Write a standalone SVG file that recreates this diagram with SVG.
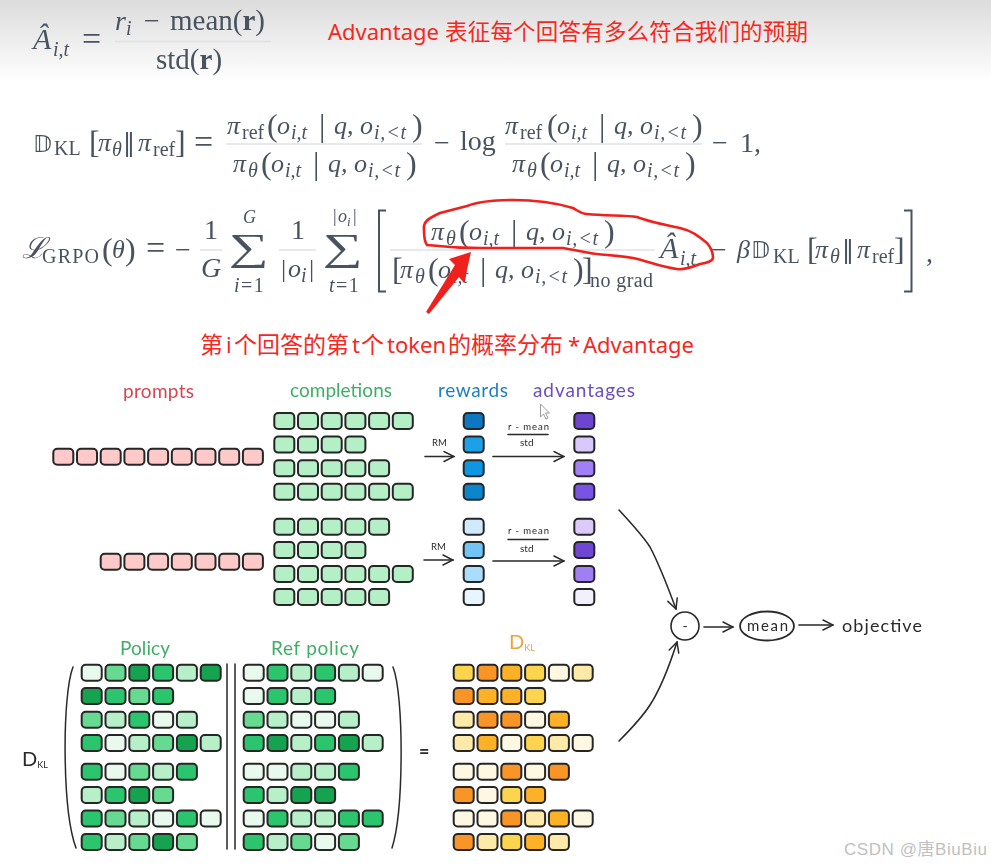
<svg xmlns="http://www.w3.org/2000/svg" width="991" height="866" viewBox="0 0 991 866">
<style>
text{font-family:"Liberation Serif","Noto Sans CJK SC",serif}
.m{font-size:26px;fill:#4a5361}
.it{font-style:italic}
.s{font-size:20px}
.l{font-size:20px;letter-spacing:1.5px}
.lt{letter-spacing:.8px}
.p{font-size:32px;font-weight:normal;font-style:normal}
.t{font-size:29px}
.eq{font-size:34px}
.min{font-size:28px}
.bb{font-family:"DejaVu Sans",serif;font-size:23px}
.nn{font-family:"DejaVu Sans",serif;font-size:24px}
.sum{font-size:56px}
.b{font-weight:bold}
.fl{stroke:#dfe2e5;stroke-width:1.3;fill:none}
.br{stroke:#4a5361;stroke-width:2;fill:none}
.red{font-family:"Noto Sans","Noto Sans CJK SC",sans-serif;font-size:22px;fill:#f5281f}
.cj{font-size:23px}
.h{font-family:"Lato","Noto Sans",sans-serif;font-size:19px}
.k{font-family:"Lato","Noto Sans",sans-serif;fill:#2a2a2a}
.w{stroke:#2a2a2a;stroke-width:1.5;fill:none;stroke-linecap:round}
.wa{stroke:#2a2a2a;stroke-width:1.6;fill:none;stroke-linecap:round;marker-end:url(#oa)}
.c rect{width:20px;height:16px;rx:4px;stroke:#262626;stroke-width:2}
.cg{fill:#b5efc5}.cp{fill:#fdc9c9}
.g0{fill:#e8f9ee}.g1{fill:#b6efc8}.g2{fill:#66da90}.g3{fill:#2cc56c}.g4{fill:#16a34f}
.o0{fill:#fef8e3}.o1{fill:#fdeaa8}.o2{fill:#fdd44e}.o3{fill:#fdb127}.o4{fill:#f89528}
#eq-advantage,#eq-kl,#eq-grpo,#labels,.c,#connectors,.n{filter:url(#soft)}
</style>
<defs>
<linearGradient id="top" x1="0" y1="0" x2="0" y2="1"><stop offset="0" stop-color="#dcdcdc"/><stop offset="1" stop-color="#ffffff"/></linearGradient>
<marker id="oa" viewBox="0 0 12 12" refX="11" refY="6" markerWidth="12" markerHeight="12" markerUnits="userSpaceOnUse" orient="auto"><path d="M1 1L11 6L1 11" fill="none" stroke="#2a2a2a" stroke-width="1.5" stroke-linecap="round"/></marker>
<filter id="soft" x="-5%" y="-5%" width="110%" height="110%"><feGaussianBlur stdDeviation="0.35"/></filter>
</defs>
<rect width="991" height="866" fill="#fff"/>
<rect width="991" height="82" fill="url(#top)"/>

<g id="eq-advantage">
<text class="m it" x="33" y="49" style="font-size:30px">Â</text><text class="m it s" x="53" y="56">i,t</text>
<text class="m eq" x="82" y="50">=</text>
<text class="m" y="30"><tspan class="it" x="115" style="font-size:28px">r</tspan><tspan class="it s" x="126" y="35">i</tspan><tspan class="min" x="144" y="30">−</tspan><tspan class="t" x="170">mean(</tspan><tspan class="t b">r</tspan><tspan class="t">)</tspan></text>
<path class="fl" d="M115 41.500H271"/>
<text class="m t" y="69"><tspan x="156">std(</tspan><tspan class="b">r</tspan><tspan>)</tspan></text>
</g>

<g id="eq-kl">
<text class="m bb" x="33" y="152">𝔻</text>
<text class="m s" x="54" y="155">KL</text>
<text class="m" y="151"><tspan class="p" x="89" y="153">[</tspan><tspan class="it" x="98" y="151">π</tspan><tspan class="it s" x="112" y="156">θ</tspan><tspan class="nn" x="123" y="151">‖</tspan><tspan class="it" x="138">π</tspan><tspan class="s" x="153" y="156">ref</tspan><tspan class="p" x="175" y="153">]</tspan></text>
<text class="m eq" x="194" y="152.500">=</text>
<path class="fl" d="M226 144H422M505 144H702"/>
<text class="m" y="134"><tspan class="it" x="227">π</tspan><tspan class="s" x="242" y="139">ref</tspan><tspan class="p" x="267" y="136">(</tspan><tspan class="it" x="277" y="134">o</tspan><tspan class="it s" x="291" y="139">i,t</tspan><tspan class="p" x="319" y="136">|</tspan><tspan class="it" x="334" y="134">q,</tspan><tspan class="it" x="360">o</tspan><tspan class="it s lt" x="374" y="139">i,&lt;t</tspan><tspan class="p" x="412" y="136">)</tspan></text>
<text class="m" y="172"><tspan class="it" x="233">π</tspan><tspan class="it s" x="248" y="177">θ</tspan><tspan class="p" x="261" y="174">(</tspan><tspan class="it" x="271" y="172">o</tspan><tspan class="it s" x="285" y="177">i,t</tspan><tspan class="p" x="313" y="174">|</tspan><tspan class="it" x="328" y="172">q,</tspan><tspan class="it" x="354">o</tspan><tspan class="it s lt" x="368" y="177">i,&lt;t</tspan><tspan class="p" x="406" y="174">)</tspan></text>
<text class="m min" x="434" y="152">−</text>
<text class="m" x="460" y="150" style="font-size:28px">log</text>
<text class="m" y="134"><tspan class="it" x="505">π</tspan><tspan class="s" x="520" y="139">ref</tspan><tspan class="p" x="547" y="136">(</tspan><tspan class="it" x="557" y="134">o</tspan><tspan class="it s" x="571" y="139">i,t</tspan><tspan class="p" x="599" y="136">|</tspan><tspan class="it" x="614" y="134">q,</tspan><tspan class="it" x="640">o</tspan><tspan class="it s lt" x="654" y="139">i,&lt;t</tspan><tspan class="p" x="692" y="136">)</tspan></text>
<text class="m" y="172"><tspan class="it" x="512">π</tspan><tspan class="it s" x="527" y="177">θ</tspan><tspan class="p" x="540" y="174">(</tspan><tspan class="it" x="550" y="172">o</tspan><tspan class="it s" x="564" y="177">i,t</tspan><tspan class="p" x="592" y="174">|</tspan><tspan class="it" x="607" y="172">q,</tspan><tspan class="it" x="633">o</tspan><tspan class="it s lt" x="647" y="177">i,&lt;t</tspan><tspan class="p" x="685" y="174">)</tspan></text>
<text class="m min" x="712" y="152">−</text>
<text class="m" x="740" y="152" style="font-size:28px">1,</text>
</g>

<g id="eq-grpo">
<text class="m it" x="22" y="258" style="font-size:29px">ℒ</text>
<text class="m" y="263"><tspan class="s" x="42" textLength="57">GRPO</tspan><tspan class="p" x="102" y="260">(</tspan><tspan class="it" x="112" y="258">θ</tspan><tspan class="p" x="125" y="260">)</tspan></text>
<text class="m eq" x="146" y="258.500">=</text>
<text class="m min" x="175" y="259">−</text>
<path class="fl" d="M200 250H222M279 250H316M390 250H655"/>
<text class="m" x="204" y="239" style="font-size:28px">1</text><text class="m it" x="201" y="277" style="font-size:28px">G</text>
<text class="m sum" transform="translate(229 260) scale(1 .68)">∑</text>
<text class="m it" x="243" y="223" style="font-size:18px">G</text>
<text class="m l" x="234" y="292"><tspan class="it">i</tspan>=1</text>
<text class="m" x="291" y="239" style="font-size:28px">1</text>
<text class="m" y="277"><tspan x="281">|</tspan><tspan class="it" x="288">o</tspan><tspan class="it s" x="301" y="282">i</tspan><tspan x="309" y="277">|</tspan></text>
<text class="m sum" transform="translate(323 260) scale(1 .68)">∑</text>
<text class="m" y="222" style="font-size:18px"><tspan x="333">|</tspan><tspan class="it" x="338">o</tspan><tspan class="it" x="347" y="226" style="font-size:13px">i</tspan><tspan x="353" y="222">|</tspan></text>
<text class="m l" x="329" y="292"><tspan class="it">t</tspan>=1</text>
<path class="br" d="M386 210.500H379V291.500H386M904 210.500H911.500V291.500H904"/>
<text class="m" y="240"><tspan class="it" x="431">π</tspan><tspan class="it s" x="446" y="245">θ</tspan><tspan class="p" x="459" y="242">(</tspan><tspan class="it" x="469" y="240">o</tspan><tspan class="it s" x="483" y="245">i,t</tspan><tspan class="p" x="511" y="242">|</tspan><tspan class="it" x="526" y="240">q,</tspan><tspan class="it" x="552">o</tspan><tspan class="it s lt" x="566" y="245">i,&lt;t</tspan><tspan class="p" x="604" y="242">)</tspan></text>
<text class="m" y="278"><tspan class="p" x="392" y="280">[</tspan><tspan class="it" x="400" y="278">π</tspan><tspan class="it s" x="415" y="283">θ</tspan><tspan class="p" x="428" y="280">(</tspan><tspan class="it" x="438" y="278">o</tspan><tspan class="it s" x="452" y="283">i,t</tspan><tspan class="p" x="480" y="280">|</tspan><tspan class="it" x="495" y="278">q,</tspan><tspan class="it" x="521">o</tspan><tspan class="it s lt" x="535" y="283">i,&lt;t</tspan><tspan class="p" x="573" y="280">)</tspan><tspan class="p" x="582">]</tspan></text>
<text class="m s" x="590" y="287" textLength="63">no grad</text>
<text class="m it" x="660" y="258" style="font-size:30px">Â</text><text class="m it s" x="680" y="265">i,t</text>
<text class="m min" x="711" y="259">−</text>
<text class="m it" x="737" y="258">β</text>
<text class="m bb" x="751" y="258">𝔻</text>
<text class="m s" x="773" y="263">KL</text>
<text class="m" y="258"><tspan class="p" x="807" y="260">[</tspan><tspan class="it" x="815" y="258">π</tspan><tspan class="it s" x="830" y="263">θ</tspan><tspan class="nn" x="842" y="258">‖</tspan><tspan class="it" x="857">π</tspan><tspan class="s" x="872" y="263">ref</tspan><tspan class="p" x="894" y="260">]</tspan></text>
<text class="m" x="926" y="262" style="font-size:28px">,</text>
</g>

<g id="annotations">
<path d="M424 230C423 222 427 219 440 213L467 206C480 201 500 200 513 200C533 200 553 202 573 208C580 212 582 214 587 214C605 216 625 215 637 217C650 222 665 225 680 228C692 231 697 235 707 243C712 249 713 253 713 258C712 262 706 263 700 264C690 268 683 270 677 269C660 267 648 261 633 258C615 255 600 255 590 253L563 248C540 248 510 248 480 248C460 248 445 247 427 245C424 241 424 236 424 230Z" fill="none" stroke="#f0211c" stroke-width="2.600"/>
<path d="M426 312L429 314L459 277L464 283L471 252L449 259L455 265Z" fill="#f0211c"/>
<text class="red" x="328" y="40">Advantage</text>
<text class="red" x="445" y="40" textLength="363" style="font-size:22.500px">表征每个回答有多么符合我们的预期</text>
<text class="red" y="353"><tspan class="cj" x="200">第</tspan><tspan x="226">i</tspan><tspan class="cj" x="234">个回答的第</tspan><tspan x="352">t</tspan><tspan class="cj" x="361">个</tspan><tspan x="387">token</tspan><tspan class="cj" x="448">的概率分布</tspan><tspan x="568">*</tspan><tspan x="583">Advantage</tspan></text>
</g>

<g id="labels">
<text class="h" x="123" y="398" textLength="71" fill="#d9444f">prompts</text>
<text class="h" x="290" y="397" textLength="102" fill="#3fae66">completions</text>
<text class="h" x="438" y="397" textLength="70" fill="#1f7fc4">rewards</text>
<text class="h" x="533" y="397" textLength="102" fill="#6a4fc0">advantages</text>
<text class="h" x="120" y="655" textLength="50" fill="#3fae66">Policy</text>
<text class="h" x="271" y="655" textLength="88" fill="#3fae66">Ref policy</text>
<text class="h" x="509" y="649" fill="#f0a33c" style="font-size:20px">D<tspan dy="2" style="font-size:9px">KL</tspan></text>
<text class="k" x="22" y="766" style="font-size:20px">D<tspan dy="2" style="font-size:9px">KL</tspan></text>
<text class="k" x="432" y="446" style="font-size:9.500px">RM</text>
<text class="k" x="431" y="550" style="font-size:9.500px">RM</text>
<text class="k" x="508" y="430" textLength="41" style="font-size:9.500px">r - mean</text>
<text class="k" x="520" y="446" style="font-size:10px">std</text>
<text class="k" x="508" y="534" textLength="41" style="font-size:9.500px">r - mean</text>
<text class="k" x="520" y="552" style="font-size:10px">std</text>
<text class="k" x="419" y="758" style="font-size:18px;font-weight:bold">=</text>
</g>

<g id="connectors">
<path class="w" d="M508 434.500H548M508 539.500H548"/>
<path class="wa" d="M425 456.500H454"/><path class="wa" d="M493 456.500H564"/>
<path class="wa" d="M424 560H453"/><path class="wa" d="M493 561H564"/>
<path class="wa" d="M619 510C632 524 643 536 650 547C660 566 669 590 676 609"/>
<path class="wa" d="M619 741C632 728 643 716 650 705C661 688 670 664 677 642"/>
<path class="wa" d="M704 627H733"/><path class="wa" d="M799 625H833"/>
<path class="w" d="M73 667C62 695 62 810 76 848M393 667C404 695 404 810 392 848M227 664V849M235 664V849"/>
<path d="M540.500 404V417L543.500 414L546 419L548 418L545.500 413H549.500Z" fill="#fff" stroke="#9a9a9a" stroke-width="1"/>
</g>

<g id="node-minus" class="n"><circle cx="685" cy="626" r="14" fill="#fff" stroke="#2a2a2a" stroke-width="1.600"/><text class="k" x="685" y="631" text-anchor="middle" style="font-size:14px">-</text></g>
<g id="node-mean" class="n"><ellipse cx="767" cy="626" rx="27" ry="14.500" fill="#fff" stroke="#2a2a2a" stroke-width="1.800"/><text class="k" x="747" y="631" textLength="41" style="font-size:15px">mean</text></g>
<g id="node-objective" class="n"><text class="k" x="842" y="632" textLength="80" style="font-size:18px">objective</text></g>

<g id="prompts-1" class="c cp"><rect x="53.300" y="448.700"/><rect x="77" y="448.700"/><rect x="100.700" y="448.700"/><rect x="124.400" y="448.700"/><rect x="148.100" y="448.700"/><rect x="171.800" y="448.700"/><rect x="195.500" y="448.700"/><rect x="219.200" y="448.700"/><rect x="242.900" y="448.700"/></g>
<g id="prompts-2" class="c cp"><rect x="100.700" y="553.700"/><rect x="124.400" y="553.700"/><rect x="148.100" y="553.700"/><rect x="171.800" y="553.700"/><rect x="195.500" y="553.700"/><rect x="219.200" y="553.700"/><rect x="242.900" y="553.700"/></g>

<g id="completions-1" class="c cg">
<rect x="274.300" y="413"/><rect x="298" y="413"/><rect x="321.700" y="413"/><rect x="345.400" y="413"/><rect x="369.100" y="413"/><rect x="392.800" y="413"/>
<rect x="274.300" y="436.600"/><rect x="298" y="436.600"/><rect x="321.700" y="436.600"/><rect x="345.400" y="436.600"/>
<rect x="274.300" y="460.300"/><rect x="298" y="460.300"/><rect x="321.700" y="460.300"/><rect x="345.400" y="460.300"/><rect x="369.100" y="460.300"/>
<rect x="274.300" y="483.800"/><rect x="298" y="483.800"/><rect x="321.700" y="483.800"/><rect x="345.400" y="483.800"/><rect x="369.100" y="483.800"/><rect x="392.800" y="483.800"/>
</g>
<g id="completions-2" class="c cg">
<rect x="274.300" y="518.700"/><rect x="298" y="518.700"/><rect x="321.700" y="518.700"/><rect x="345.400" y="518.700"/><rect x="369.100" y="518.700"/>
<rect x="274.300" y="542"/><rect x="298" y="542"/><rect x="321.700" y="542"/><rect x="345.400" y="542"/>
<rect x="274.300" y="566"/><rect x="298" y="566"/><rect x="321.700" y="566"/><rect x="345.400" y="566"/><rect x="369.100" y="566"/><rect x="392.800" y="566"/>
<rect x="274.300" y="589"/><rect x="298" y="589"/><rect x="321.700" y="589"/><rect x="345.400" y="589"/><rect x="369.100" y="589"/>
</g>

<g id="rewards-1" class="c"><rect x="463.700" y="413" fill="#0778bf"/><rect x="463.700" y="436.600" fill="#1fa1e8"/><rect x="463.700" y="460.300" fill="#0f96e2"/><rect x="463.700" y="483.800" fill="#0a85cc"/></g>
<g id="rewards-2" class="c"><rect x="463.700" y="518.700" fill="#cfeafd"/><rect x="463.700" y="542" fill="#72c4f5"/><rect x="463.700" y="566" fill="#aadcfb"/><rect x="463.700" y="589" fill="#e6f5fe"/></g>
<g id="advantages-1" class="c"><rect x="574.300" y="413" fill="#6d45cf"/><rect x="574.300" y="436.600" fill="#d9c8fa"/><rect x="574.300" y="460.300" fill="#a17ff5"/><rect x="574.300" y="483.800" fill="#7a52e5"/></g>
<g id="advantages-2" class="c"><rect x="574.300" y="518.700" fill="#dccafb"/><rect x="574.300" y="542" fill="#6f47d2"/><rect x="574.300" y="566" fill="#a07ef4"/><rect x="574.300" y="589" fill="#f3f0fd"/></g>

<g id="policy" class="c">
<rect class="g0" x="81.700" y="664.700"/><rect class="g2" x="105.500" y="664.700"/><rect class="g4" x="129.300" y="664.700"/><rect class="g3" x="153.100" y="664.700"/><rect class="g1" x="176.900" y="664.700"/><rect class="g4" x="200.700" y="664.700"/>
<rect class="g4" x="81.700" y="688"/><rect class="g3" x="105.500" y="688"/><rect class="g2" x="129.300" y="688"/><rect class="g3" x="153.100" y="688"/>
<rect class="g2" x="81.700" y="711.700"/><rect class="g1" x="105.500" y="711.700"/><rect class="g3" x="129.300" y="711.700"/><rect class="g0" x="153.100" y="711.700"/><rect class="g1" x="176.900" y="711.700"/>
<rect class="g3" x="81.700" y="735"/><rect class="g0" x="105.500" y="735"/><rect class="g1" x="129.300" y="735"/><rect class="g2" x="153.100" y="735"/><rect class="g4" x="176.900" y="735"/><rect class="g1" x="200.700" y="735"/>
<rect class="g3" x="81.700" y="763.700"/><rect class="g0" x="105.500" y="763.700"/><rect class="g2" x="129.300" y="763.700"/><rect class="g1" x="153.100" y="763.700"/><rect class="g3" x="176.900" y="763.700"/>
<rect class="g1" x="81.700" y="787"/><rect class="g3" x="105.500" y="787"/><rect class="g4" x="129.300" y="787"/><rect class="g2" x="153.100" y="787"/>
<rect class="g3" x="81.700" y="810.500"/><rect class="g2" x="105.500" y="810.500"/><rect class="g1" x="129.300" y="810.500"/><rect class="g0" x="153.100" y="810.500"/><rect class="g3" x="176.900" y="810.500"/><rect class="g0" x="200.700" y="810.500"/>
<rect class="g3" x="81.700" y="834"/><rect class="g1" x="105.500" y="834"/><rect class="g2" x="129.300" y="834"/><rect class="g4" x="153.100" y="834"/><rect class="g2" x="176.900" y="834"/>
</g>
<g id="ref-policy" class="c">
<rect class="g0" x="243.700" y="664.700"/><rect class="g3" x="267.500" y="664.700"/><rect class="g1" x="291.300" y="664.700"/><rect class="g3" x="315.100" y="664.700"/><rect class="g1" x="338.900" y="664.700"/><rect class="g0" x="362.700" y="664.700"/>
<rect class="g0" x="243.700" y="688"/><rect class="g3" x="267.500" y="688"/><rect class="g1" x="291.300" y="688"/><rect class="g3" x="315.100" y="688"/>
<rect class="g2" x="243.700" y="711.700"/><rect class="g1" x="267.500" y="711.700"/><rect class="g0" x="291.300" y="711.700"/><rect class="g0" x="315.100" y="711.700"/><rect class="g1" x="338.900" y="711.700"/>
<rect class="g3" x="243.700" y="735"/><rect class="g4" x="267.500" y="735"/><rect class="g1" x="291.300" y="735"/><rect class="g3" x="315.100" y="735"/><rect class="g4" x="338.900" y="735"/><rect class="g1" x="362.700" y="735"/>
<rect class="g0" x="243.700" y="763.700"/><rect class="g0" x="267.500" y="763.700"/><rect class="g1" x="291.300" y="763.700"/><rect class="g1" x="315.100" y="763.700"/><rect class="g3" x="338.900" y="763.700"/>
<rect class="g3" x="243.700" y="787"/><rect class="g1" x="267.500" y="787"/><rect class="g4" x="291.300" y="787"/><rect class="g4" x="315.100" y="787"/>
<rect class="g0" x="243.700" y="810.500"/><rect class="g3" x="267.500" y="810.500"/><rect class="g1" x="291.300" y="810.500"/><rect class="g1" x="315.100" y="810.500"/><rect class="g3" x="338.900" y="810.500"/><rect class="g3" x="362.700" y="810.500"/>
<rect class="g3" x="243.700" y="834"/><rect class="g1" x="267.500" y="834"/><rect class="g2" x="291.300" y="834"/><rect class="g0" x="315.100" y="834"/><rect class="g2" x="338.900" y="834"/>
</g>
<g id="dkl" class="c">
<rect class="o2" x="453.700" y="664.700"/><rect class="o4" x="477.500" y="664.700"/><rect class="o3" x="501.300" y="664.700"/><rect class="o2" x="525.100" y="664.700"/><rect class="o0" x="548.900" y="664.700"/><rect class="o1" x="572.700" y="664.700"/>
<rect class="o4" x="453.700" y="688"/><rect class="o3" x="477.500" y="688"/><rect class="o3" x="501.300" y="688"/><rect class="o2" x="525.100" y="688"/>
<rect class="o1" x="453.700" y="711.700"/><rect class="o4" x="477.500" y="711.700"/><rect class="o4" x="501.300" y="711.700"/><rect class="o0" x="525.100" y="711.700"/><rect class="o3" x="548.900" y="711.700"/>
<rect class="o1" x="453.700" y="735"/><rect class="o3" x="477.500" y="735"/><rect class="o0" x="501.300" y="735"/><rect class="o2" x="525.100" y="735"/><rect class="o1" x="548.900" y="735"/><rect class="o0" x="572.700" y="735"/>
<rect class="o0" x="453.700" y="763.700"/><rect class="o0" x="477.500" y="763.700"/><rect class="o4" x="501.300" y="763.700"/><rect class="o0" x="525.100" y="763.700"/><rect class="o4" x="548.900" y="763.700"/>
<rect class="o4" x="453.700" y="787"/><rect class="o0" x="477.500" y="787"/><rect class="o2" x="501.300" y="787"/><rect class="o3" x="525.100" y="787"/>
<rect class="o0" x="453.700" y="810.500"/><rect class="o0" x="477.500" y="810.500"/><rect class="o4" x="501.300" y="810.500"/><rect class="o1" x="525.100" y="810.500"/><rect class="o3" x="548.900" y="810.500"/><rect class="o0" x="572.700" y="810.500"/>
<rect class="o4" x="453.700" y="834"/><rect class="o1" x="477.500" y="834"/><rect class="o2" x="501.300" y="834"/><rect class="o3" x="525.100" y="834"/><rect class="o1" x="548.900" y="834"/>
</g>

<text x="844" y="855" style='font-family:"Liberation Sans","Noto Sans CJK SC",sans-serif;font-size:17px' fill="#c0c0c0" textLength="143">CSDN @唐BiuBiu</text>
</svg>
